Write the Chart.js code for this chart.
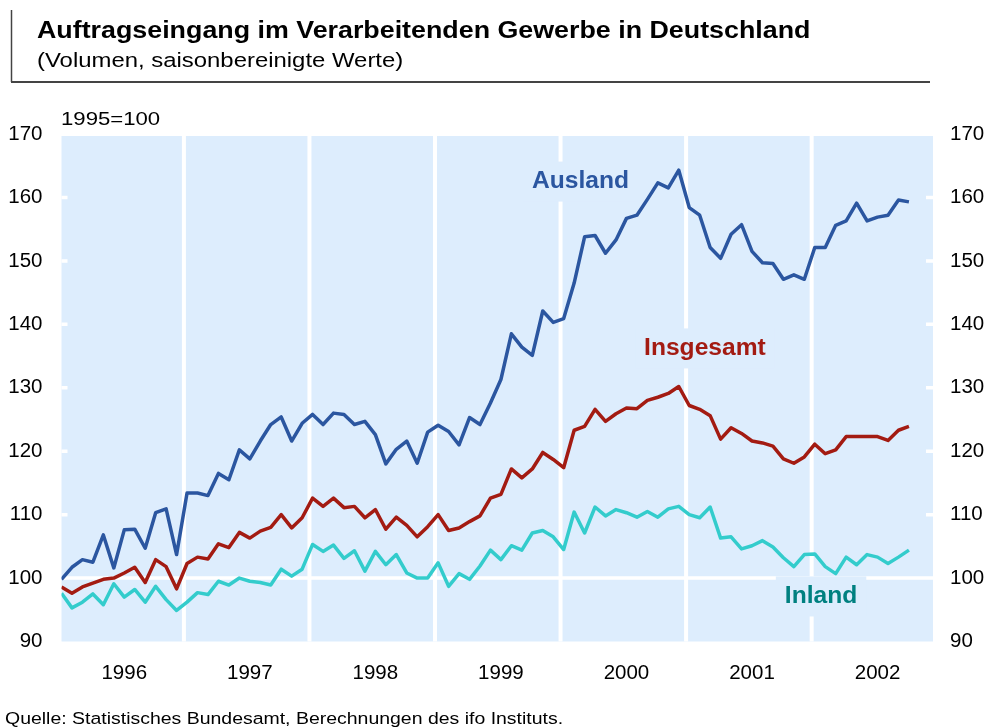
<!DOCTYPE html>
<html lang="de">

<head>
    <meta charset="utf-8">
    <style>
        body { margin: 0; background: #fff; }
        canvas { display: block; }
    </style>
</head>

<body>
    <canvas id="orderChart" width="989" height="727"></canvas>

    <script src="https://cdn.jsdelivr.net/npm/chart.js"></script>

    <script>
        // Years on the x axis (one label per year, monthly data Jan 1996 - Oct 2002)
        const years = ['1996', '1997', '1998', '1999', '2000', '2001', '2002'];

        // Monthly index values, 1995=100
        const ausland = [
            99.8, 101.7, 102.9, 102.5, 106.8, 101.6, 107.6, 107.7, 104.7, 110.3, 110.9, 103.7,
            113.4, 113.4, 113.0, 116.5, 115.5, 120.2, 118.8, 121.6, 124.2, 125.4, 121.6, 124.4,
            125.8, 124.2, 126.0, 125.8, 124.2, 124.7, 122.6, 118.0, 120.3, 121.6, 118.1, 123.0,
            124.1, 123.1, 121.0, 125.3, 124.2, 127.6, 131.3, 138.5, 136.4, 135.1, 142.1, 140.3,
            140.9, 146.5, 153.8, 154.0, 151.2, 153.3, 156.7, 157.2, 159.7, 162.3, 161.5, 164.3,
            158.4, 157.2, 152.1, 150.4, 154.2, 155.7, 151.5, 149.7, 149.6, 147.1, 147.8, 147.1,
            152.1, 152.1, 155.6, 156.3, 159.1, 156.3, 156.9, 157.2, 159.6, 159.3
        ];
        const insgesamt = [
            98.6, 97.6, 98.6, 99.2, 99.8, 100.0, 100.8, 101.7, 99.3, 102.9, 101.8, 98.3,
            102.3, 103.3, 103.0, 105.4, 104.8, 107.2, 106.3, 107.4, 108.0, 110.0, 107.9, 109.5,
            112.6, 111.3, 112.6, 111.1, 111.3, 109.5, 110.8, 107.7, 109.6, 108.3, 106.5, 108.1,
            110.0, 107.5, 107.9, 108.9, 109.8, 112.6, 113.2, 117.2, 115.8, 117.2, 119.8, 118.7,
            117.4, 123.3, 123.9, 126.6, 124.7, 125.9, 126.8, 126.7, 128.0, 128.5, 129.1, 130.2,
            127.2, 126.6, 125.6, 121.9, 123.7, 122.8, 121.6, 121.3, 120.8, 118.8, 118.1, 119.1,
            121.1, 119.6, 120.2, 122.3, 122.3, 122.3, 122.3, 121.7, 123.3, 123.9
        ];
        const inland = [
            97.6, 95.3, 96.2, 97.5, 95.8, 99.1, 97.0, 98.2, 96.2, 98.7, 96.6, 94.9,
            96.2, 97.7, 97.4, 99.5, 98.9, 100.0, 99.5, 99.3, 98.9, 101.4, 100.3, 101.4,
            105.3, 104.2, 105.2, 103.1, 104.3, 101.1, 104.2, 102.1, 103.7, 100.8, 100.0, 100.0,
            102.4, 98.7, 100.7, 99.8, 101.9, 104.4, 102.9, 105.1, 104.4, 107.1, 107.5, 106.5,
            104.5, 110.4, 107.1, 111.2, 109.8, 110.8, 110.3, 109.6, 110.5, 109.6, 110.9, 111.3,
            110.0, 109.5, 111.2, 106.3, 106.5, 104.6, 105.1, 105.9, 104.9, 103.2, 101.8, 103.7,
            103.8, 101.8, 100.7, 103.3, 102.1, 103.7, 103.3, 102.3, 103.3, 104.4
        ];

        // Value axis ticks
        const yTicks = [90, 100, 110, 120, 130, 140, 150, 160, 170];

        const FONT = "'Liberation Sans', Arial, sans-serif";
        const BG = '#DDEDFD';
        const STRETCH = 1.166; // the original text is drawn a bit wider than normal

        // Turn a list of monthly values into {x, y} points (x = month index)
        function toPoints(values) {
            return values.map((v, i) => ({ x: i, y: v }));
        }

        // Draw text stretched horizontally
        function wideText(ctx, text, x, y, sx) {
            ctx.save();
            ctx.translate(x, y);
            ctx.scale(sx, 1);
            ctx.fillText(text, 0, 0);
            ctx.restore();
        }

        // Series labels written inside the plot (value coordinates)
        const seriesLabels = [
            { text: 'Ausland', x: 49.6, y: 162.5, color: '#2B56A0' },
            { text: 'Insgesamt', x: 61.5, y: 136.2, color: '#A31B12' },
            { text: 'Inland', x: 72.6, y: 97.1, color: '#008080' }
        ];

        // Background, white grid lines, labels and title
        const decorPlugin = {
            id: 'decor',
            beforeDraw(chart) {
                const ctx = chart.ctx;
                const a = chart.chartArea;
                ctx.save();
                ctx.fillStyle = '#fff';
                ctx.fillRect(0, 0, chart.width, chart.height);
                ctx.fillStyle = BG;
                ctx.fillRect(a.left, a.top + 2, a.right - a.left, a.bottom - a.top - 2);

                // title block with its border
                ctx.strokeStyle = '#444';
                ctx.lineWidth = 1.5;
                ctx.beginPath();
                ctx.moveTo(11.5, 10);
                ctx.lineTo(11.5, 82);
                ctx.stroke();
                ctx.lineWidth = 2;
                ctx.beginPath();
                ctx.moveTo(11, 82);
                ctx.lineTo(930, 82);
                ctx.stroke();

                ctx.fillStyle = '#000';
                ctx.textBaseline = 'alphabetic';
                ctx.textAlign = 'left';
                ctx.font = 'bold 23px ' + FONT;
                wideText(ctx, 'Auftragseingang im Verarbeitenden Gewerbe in Deutschland', 37, 38, STRETCH);
                ctx.font = '20.5px ' + FONT;
                wideText(ctx, '(Volumen, saisonbereinigte Werte)', 37, 67, STRETCH);

                ctx.font = '19px ' + FONT;
                wideText(ctx, '1995=100', 61, 125, STRETCH);

                ctx.font = '16.7px ' + FONT;
                wideText(ctx, 'Quelle: Statistisches Bundesamt, Berechnungen des ifo Instituts.', 5, 724, STRETCH);
                ctx.restore();
            },
            beforeDatasetsDraw(chart) {
                const ctx = chart.ctx;
                const a = chart.chartArea;
                const xs = chart.scales.x;
                const ys = chart.scales.y;
                ctx.save();
                ctx.strokeStyle = '#fff';

                // year separators
                ctx.lineWidth = 4;
                for (let k = 1; k < years.length; k++) {
                    const px = xs.getPixelForValue(12 * k - 0.3);
                    ctx.beginPath();
                    ctx.moveTo(px, a.top + 2);
                    ctx.lineTo(px, a.bottom);
                    ctx.stroke();
                }

                // base line at 100 and short tick marks on both edges
                ctx.lineWidth = 3.5;
                const y100 = ys.getPixelForValue(100);
                ctx.beginPath();
                ctx.moveTo(a.left, y100);
                ctx.lineTo(a.right, y100);
                ctx.stroke();
                yTicks.filter(t => t > 100 && t < 170).forEach(t => {
                    const py = ys.getPixelForValue(t);
                    ctx.beginPath();
                    ctx.moveTo(a.left, py);
                    ctx.lineTo(a.left + 6, py);
                    ctx.moveTo(a.right - 7, py);
                    ctx.lineTo(a.right, py);
                    ctx.stroke();
                });

                // series labels on background boxes
                ctx.font = 'bold 23px ' + FONT;
                ctx.textAlign = 'center';
                ctx.textBaseline = 'middle';
                seriesLabels.forEach(l => {
                    const px = xs.getPixelForValue(l.x);
                    const py = ys.getPixelForValue(l.y);
                    const w = ctx.measureText(l.text).width * 1.07 + 18;
                    ctx.fillStyle = BG;
                    ctx.fillRect(px - w / 2, py - 20, w, 40);
                    ctx.fillStyle = l.color;
                    wideText(ctx, l.text, px, py, 1.07);
                });
                ctx.restore();
            }
        };

        const ctx = document.getElementById('orderChart').getContext('2d');
        const lineStyle = {
            borderWidth: 3.5,
            pointRadius: 0,
            tension: 0,
            borderJoinStyle: 'round',
            fill: false
        };
        const tickFont = { family: FONT, size: 20.5 };

        const myChart = new Chart(ctx, {
            type: 'line',
            data: {
                datasets: [
                    Object.assign({ label: 'Inland', data: toPoints(inland), borderColor: '#33CCCC' }, lineStyle),
                    Object.assign({ label: 'Insgesamt', data: toPoints(insgesamt), borderColor: '#A31B12' }, lineStyle),
                    Object.assign({ label: 'Ausland', data: toPoints(ausland), borderColor: '#2B56A0' }, lineStyle)
                ]
            },
            options: {
                responsive: false,
                devicePixelRatio: 1,
                animation: false,
                layout: { padding: { top: 134, left: 0, right: 0, bottom: 0 } },
                plugins: {
                    legend: { display: false },
                    tooltip: { enabled: false }
                },
                scales: {
                    x: {
                        type: 'linear',
                        min: 0,
                        max: 83.3,
                        grid: { display: false, drawTicks: false },
                        border: { display: false },
                        afterBuildTicks: (scale) => {
                            scale.ticks = years.map((y, k) => ({ value: 12 * k + 6 }));
                        },
                        afterFit: (scale) => { scale.height = 85.5; },
                        ticks: {
                            autoSkip: false,
                            maxRotation: 0,
                            padding: 20,
                            color: '#000',
                            font: tickFont,
                            callback: (v) => years[Math.round((v - 6) / 12)]
                        }
                    },
                    y: {
                        position: 'left',
                        min: 90,
                        max: 170,
                        grid: { display: false, drawTicks: false },
                        border: { display: false },
                        afterBuildTicks: (scale) => { scale.ticks = yTicks.map(v => ({ value: v })); },
                        afterFit: (scale) => { scale.width = 61.5; },
                        ticks: {
                            padding: 19,
                            color: '#000',
                            font: tickFont
                        }
                    },
                    y2: {
                        position: 'right',
                        min: 90,
                        max: 170,
                        grid: { display: false, drawTicks: false },
                        border: { display: false },
                        afterBuildTicks: (scale) => { scale.ticks = yTicks.map(v => ({ value: v })); },
                        afterFit: (scale) => { scale.width = 56; },
                        ticks: {
                            padding: 17,
                            color: '#000',
                            font: tickFont
                        }
                    }
                }
            },
            plugins: [decorPlugin]
        });
    </script>
</body>

</html>
